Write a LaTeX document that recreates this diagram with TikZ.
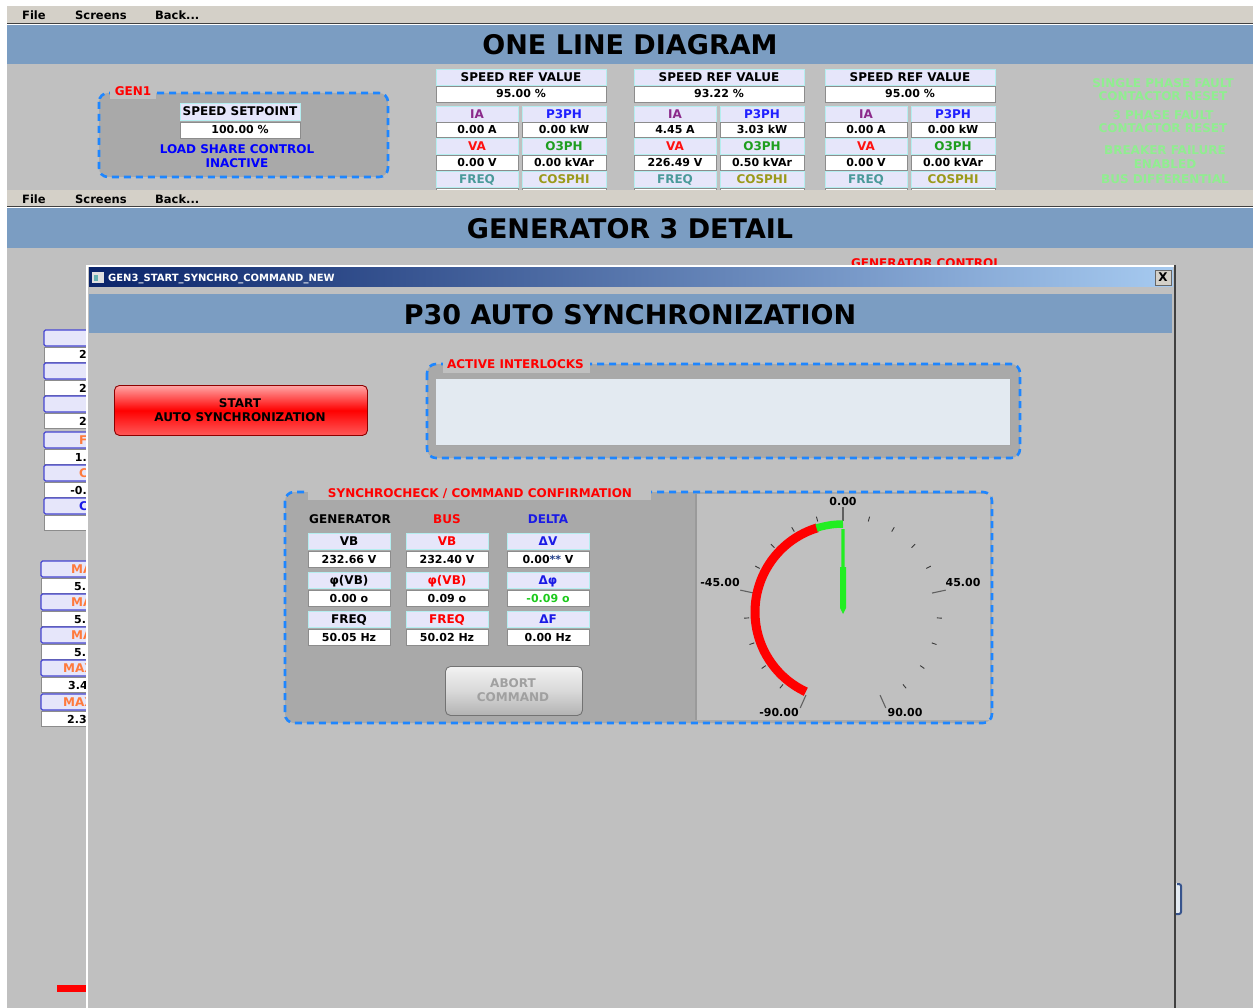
\documentclass[tikz,border=0pt]{standalone}
\usepackage{fontspec}
\setmainfont{DejaVu Sans}
\newcommand\uifont[1]{\fontsize{#1}{#1}\selectfont\bfseries}

\definecolor{menubar}{HTML}{D4D0C8}
\definecolor{band}{HTML}{7B9DC2}
\definecolor{screen}{HTML}{C0C0C0}
\definecolor{panel}{HTML}{A9A9A9}
\definecolor{dashblue}{HTML}{1E86FF}
\definecolor{lav}{HTML}{E6E6FA}
\definecolor{lavedge}{HTML}{B4EEF0}
\definecolor{valedge}{HTML}{8C8C8C}
\definecolor{oldedge}{HTML}{4646D2}
\definecolor{edge}{HTML}{404040}
\definecolor{iacol}{HTML}{8B2A8B}
\definecolor{p3col}{HTML}{2020FF}
\definecolor{vacol}{HTML}{FF1010}
\definecolor{qcol}{HTML}{1E9E1E}
\definecolor{fqcol}{HTML}{4A9A9A}
\definecolor{cscol}{HTML}{9A9A1A}
\definecolor{lgreen}{HTML}{90EE90}
\definecolor{orangelbl}{HTML}{FF7A3C}
\definecolor{deltablue}{HTML}{1A1AE6}
\definecolor{titledark}{HTML}{0A246A}
\definecolor{titlelight}{HTML}{A6CAF0}
\definecolor{ilbox}{HTML}{E3EAF1}
\definecolor{gaugeedge}{HTML}{9A9A9A}
\definecolor{tickcol}{HTML}{383838}
\definecolor{needle}{HTML}{22EE22}
\definecolor{okgreen}{HTML}{22EE22}
\definecolor{stars}{HTML}{1F3C88}
\definecolor{abortfg}{HTML}{A0A0A0}

\tikzset{
  cellbox/.style={rectangle, inner sep=0pt, outer sep=0pt, anchor=north west},
  lab/.style={cellbox, fill=lav, draw=lavedge, line width=0.9pt,
    font=\uifont{12}, text height=8.8pt, text depth=0pt},
  val/.style={cellbox, fill=white, draw=valedge, line width=0.9pt,
    font=\uifont{11}, text height=8pt, text depth=0pt},
  oldlab/.style={cellbox, fill=lav, draw=oldedge, line width=1.1pt, rounded corners=1.5pt},
  section/.style={draw=dashblue, line width=2.6pt, dash pattern=on 7pt off 5pt, rounded corners=9pt},
  t11/.style={font=\uifont{11}, inner sep=0pt, text height=8pt, text depth=0pt},
  t12/.style={font=\uifont{12}, inner sep=0pt, text height=8.8pt, text depth=0pt},
  menuitem/.style={font=\uifont{11.5}, anchor=west, inner sep=0pt, text height=8.4pt, text depth=0pt},
  bigtitle/.style={font=\uifont{27}, inner sep=0pt, text height=19.7pt, text depth=0pt},
  startbtn/.style={rectangle, rounded corners=5pt, draw=red!55!black, line width=0.9pt,
    top color=red!35!white, bottom color=red!65!white, middle color=red, anchor=north west},
  abortbtn/.style={rectangle, rounded corners=5pt, draw=black!55, line width=0.9pt,
    top color=black!5, bottom color=black!30, middle color=black!15, anchor=north west},
}
% name, x, y (top left), width, height, style, text
\newcommand\uicell[7]{\node[#6, minimum width=#4pt, minimum height=#5pt] (#1) at (#2,#3) {#7};}

\begin{document}
\begin{tikzpicture}[x=1pt,y=-1pt]
\useasboundingbox (0,0) rectangle (1253,1008);
\fill[white] (0,0) rectangle (1253,1008);

%% ---------------- upper screen: one line diagram ----------------
\fill[menubar] (7,6) rectangle (1253,23);
\draw[edge, line width=1.2pt] (7,23.5) -- (1253,23.5);
\fill[band] (7,25) rectangle (1253,64);
\fill[screen] (7,64) rectangle (1253,190);
\node[menuitem] (file1) at (22,15) {File};
\node[menuitem] (scr1) at (75,15) {Screens};
\node[menuitem] (back1) at (155,15) {Back...};
\node[bigtitle] (title1) at (630,45) {ONE LINE DIAGRAM};

% GEN1 group
\fill[panel, rounded corners=9pt] (99,93) rectangle (388,177);
\draw[section] (99,93) rectangle (388,177);
\fill[screen] (110,85) rectangle (156,99);
\node[t12, text=red] (gen1) at (133,91) {GEN1};
\uicell{spset}{180}{103}{120}{17}{lab}{SPEED SETPOINT}
\uicell{spval}{180}{122}{120}{16}{val}{100.00 \%}
\node[t12, text=blue] (lsc1) at (237,149) {LOAD SHARE CONTROL};
\node[t12, text=blue] (lsc2) at (237,163) {INACTIVE};

% generator measurement columns
\foreach \gx/\gn/\sr/\ia/\pp/\va/\qq in {436/a/95.00/0.00/0.00/0.00/0.00,
    634/b/93.22/4.45/3.03/226.49/0.50, 825/c/95.00/0.00/0.00/0.00/0.00} {
  \uicell{sr\gn}{\gx}{69}{170}{16}{lab}{SPEED REF VALUE}
  \uicell{srv\gn}{\gx}{86}{170}{16}{val}{\sr~\%}
  \uicell{ia\gn}{\gx}{106}{82}{16}{lab,text=iacol}{IA}
  \uicell{pp\gn}{\gx+86}{106}{84}{16}{lab,text=p3col}{P3PH}
  \uicell{iav\gn}{\gx}{122}{82}{15}{val}{\ia~A}
  \uicell{ppv\gn}{\gx+86}{122}{84}{15}{val}{\pp~kW}
  \uicell{va\gn}{\gx}{138}{82}{16}{lab,text=vacol}{VA}
  \uicell{qq\gn}{\gx+86}{138}{84}{16}{lab,text=qcol}{O3PH}
  \uicell{vav\gn}{\gx}{155}{82}{15}{val}{\va~V}
  \uicell{qqv\gn}{\gx+86}{155}{84}{15}{val}{\qq~kVAr}
  \uicell{fq\gn}{\gx}{171}{82}{16}{lab,text=fqcol}{FREQ}
  \uicell{cs\gn}{\gx+86}{171}{84}{16}{lab,text=cscol}{COSPHI}
  \uicell{fqv\gn}{\gx}{188}{82}{15}{val}{}
  \uicell{csv\gn}{\gx+86}{188}{84}{15}{val}{}
}

% protection status texts
\node[t12, text=lgreen] (f1) at (1163,83) {SINGLE PHASE FAULT};
\node[t12, text=lgreen] (f2) at (1163,96) {CONTACTOR RESET};
\node[t12, text=lgreen] (f3) at (1163,115) {3 PHASE FAULT};
\node[t12, text=lgreen] (f4) at (1163,128) {CONTACTOR RESET};
\node[t12, text=lgreen] (f5) at (1165,150) {BREAKER FAILURE};
\node[t12, text=lgreen] (f6) at (1165,164) {ENABLED};
\node[t12, text=lgreen] (f7) at (1165,179) {BUS DIFFERENTIAL};

%% ---------------- lower screen: generator 3 detail ----------------
\fill[menubar] (7,190) rectangle (1253,206);
\draw[edge, line width=1.2pt] (7,206.5) -- (1253,206.5);
\fill[band] (7,208) rectangle (1253,248);
\fill[screen] (7,248) rectangle (1253,1008);
\node[menuitem] (file2) at (22,199) {File};
\node[menuitem] (scr2) at (75,199) {Screens};
\node[menuitem] (back2) at (155,199) {Back...};
\node[bigtitle] (title2) at (630,229) {GENERATOR 3 DETAIL};
\node[t12, text=red] (genctl) at (926,263) {GENERATOR CONTROL};

% measurement tiles left of the dialog
\begin{scope}
  \clip (0,300) rectangle (86,740);
  \foreach \ty/\tt/\tc/\tv/\tn in {330//black/2/1, 363//black/2/2, 396//black/2/3,
      432/F/orangelbl/1./4, 465/C/orangelbl/-0./5, 498/C/deltablue//6} {
    \uicell{ol\tn}{44}{\ty}{60}{16}{oldlab,text=\tc}{}
    \uicell{ov\tn}{44}{\ty+17}{60}{15}{val}{}
    \node[t12, text=\tc, anchor=west] (olt\tn) at (79,\ty+8) {\tt};
    \node[t11, anchor=east] (ovt\tn) at (87,\ty+25) {\tv};
  }
  \foreach \ty/\tt/\tv/\tx/\vx/\tn in {561/MA/5./71/74/1, 594/MA/5./71/74/2, 627/MA/5./71/74/3,
      660/MAX/3.4/63/68/4, 694/MAX/2.3/63/67/5} {
    \uicell{ml\tn}{41}{\ty}{62}{16}{oldlab,text=orangelbl}{}
    \uicell{mv\tn}{41}{\ty+17}{62}{15}{val}{}
    \node[t12, text=orangelbl, anchor=west] (mlt\tn) at (\tx,\ty+8) {\tt};
    \node[t11, anchor=west] (mvt\tn) at (\vx,\ty+25) {\tv};
  }
\end{scope}
\fill[red] (57,985) rectangle (86,992);
\fill[ilbox] (1176,883) rectangle (1181,914);
\draw[titledark!60!band, line width=2pt, rounded corners=2pt] (1177,884) -- (1181,884) -- (1181,914) -- (1176,914);

%% ---------------- synchronisation dialog ----------------
\fill[screen] (86,265) rectangle (1176,1008);
\fill[white] (86,265) rectangle (88,1008);
\fill[white] (86,265) rectangle (1176,267);
\draw[edge, line width=1.5pt] (1175,265) -- (1175,1008);
\shade[left color=titledark, right color=titlelight] (89,268) rectangle (1173,287);
\fill[black!12] (92,272) rectangle (104,283);
\fill[teal!60] (94,275) rectangle (98,281);
\node[font=\uifont{10}, text=white, anchor=west, inner sep=0pt, text height=7.3pt, text depth=0pt]
  (dlgtitle) at (108,277.5) {GEN3\_START\_SYNCHRO\_COMMAND\_NEW};
\node[rectangle, fill=menubar, draw=black!60, line width=0.8pt, minimum width=16pt, minimum height=15pt,
  inner sep=0pt, font=\uifont{12}] (close) at (1163,277.5) {X};
\fill[band] (89,294) rectangle (1172,333);
\node[bigtitle] (title3) at (630,315) {P30 AUTO SYNCHRONIZATION};

% start button
\node[startbtn, minimum width=253pt, minimum height=50pt] (start) at (114,385) {};
\node[t12] (start1) at (240,403) {START};
\node[t12] (start2) at (240,417) {AUTO SYNCHRONIZATION};

% active interlocks
\fill[panel, rounded corners=9pt] (427,364) rectangle (1020,458);
\fill[ilbox] (436,379) rectangle (1010,445);
\draw[black!35, line width=0.8pt] (436,445) -- (1010,445) -- (1010,379);
\draw[section] (427,364) rectangle (1020,458);
\fill[screen] (443,357) rectangle (590,373);
\node[t12, text=red] (ilk) at (515.5,364) {ACTIVE INTERLOCKS};

% synchrocheck group
\fill[panel, rounded corners=9pt] (285,492) rectangle (992,723);
\fill[screen] (696,494) rectangle (990,720);
\draw[gaugeedge, line width=2pt] (696,494) -- (696,720);
\draw[section] (285,492) rectangle (992,723);
\fill[screen] (308,484) rectangle (651,500);
\node[t12, text=red] (sync) at (480,493) {SYNCHROCHECK / COMMAND CONFIRMATION};

\node[t12] (hgen) at (350,519) {GENERATOR};
\node[t12, text=red] (hbus) at (447,519) {BUS};
\node[t12, text=deltablue] (hdel) at (548,519) {DELTA};

\uicell{gvb}{308}{533}{82}{16}{lab}{VB}
\uicell{gvbv}{308}{551}{82}{16}{val}{232.66 V}
\uicell{gph}{308}{572}{82}{16}{lab}{φ(VB)}
\uicell{gphv}{308}{590}{82}{16}{val}{0.00 o}
\uicell{gfq}{308}{611}{82}{16}{lab}{FREQ}
\uicell{gfqv}{308}{629}{82}{16}{val}{50.05 Hz}

\uicell{bvb}{406}{533}{82}{16}{lab,text=red}{VB}
\uicell{bvbv}{406}{551}{82}{16}{val}{232.40 V}
\uicell{bph}{406}{572}{82}{16}{lab,text=red}{φ(VB)}
\uicell{bphv}{406}{590}{82}{16}{val}{0.09 o}
\uicell{bfq}{406}{611}{82}{16}{lab,text=red}{FREQ}
\uicell{bfqv}{406}{629}{82}{16}{val}{50.02 Hz}

\uicell{dvb}{507}{533}{82}{16}{lab,text=deltablue}{ΔV}
\uicell{dvbv}{507}{551}{82}{16}{val}{0.00{\color{stars}**} V}
\uicell{dph}{507}{572}{82}{16}{lab,text=deltablue}{Δφ}
\uicell{dphv}{507}{590}{82}{16}{val,text=okgreen!85!black}{-0.09 o}
\uicell{dfq}{507}{611}{82}{16}{lab,text=deltablue}{ΔF}
\uicell{dfqv}{507}{629}{82}{16}{val}{0.00 Hz}

% abort button
\node[abortbtn, minimum width=137pt, minimum height=49pt] (abort) at (445,666) {};
\node[t12, text=abortfg] (abort1) at (513,683) {ABORT};
\node[t12, text=abortfg] (abort2) at (513,697) {COMMAND};

% phase angle gauge: scale -90..90 spread over +-156 degrees
\coordinate (gc) at (843,612);
\foreach \v in {-81,-72,-63,-54,-36,-27,-18,-9,9,18,27,36,54,63,72,81} {
  \pgfmathsetmacro\ga{\v*1.733}
  \draw[tickcol, line width=0.9pt] ({843+94*sin(\ga)},{612-94*cos(\ga)}) -- ({843+99*sin(\ga)},{612-99*cos(\ga)});
}
\foreach \v in {-90,-45,0,45,90} {
  \pgfmathsetmacro\ga{\v*1.733}
  \draw[tickcol!80, line width=1.1pt] ({843+91*sin(\ga)},{612-91*cos(\ga)}) -- ({843+105*sin(\ga)},{612-105*cos(\ga)});
}
\draw[red, line width=9pt] plot[domain=-155:-17, samples=60] ({843+88*sin(\x)},{612-88*cos(\x)});
\draw[okgreen, line width=7.5pt] plot[domain=-17.5:0, samples=10] ({843+88*sin(\x)},{612-88*cos(\x)});
\fill[needle] (841.4,529) -- (844.6,529) -- (844.6,567) -- (846,567) -- (846,608)
  -- (843,614) -- (840,608) -- (840,567) -- (841.4,567) -- cycle;
\node[t11] (g0) at (843,501) {0.00};
\node[t11] (gm45) at (720,582) {-45.00};
\node[t11] (gp45) at (963,582) {45.00};
\node[t11] (gm90) at (779,712) {-90.00};
\node[t11] (gp90) at (905,712) {90.00};
\end{tikzpicture}
\end{document}
